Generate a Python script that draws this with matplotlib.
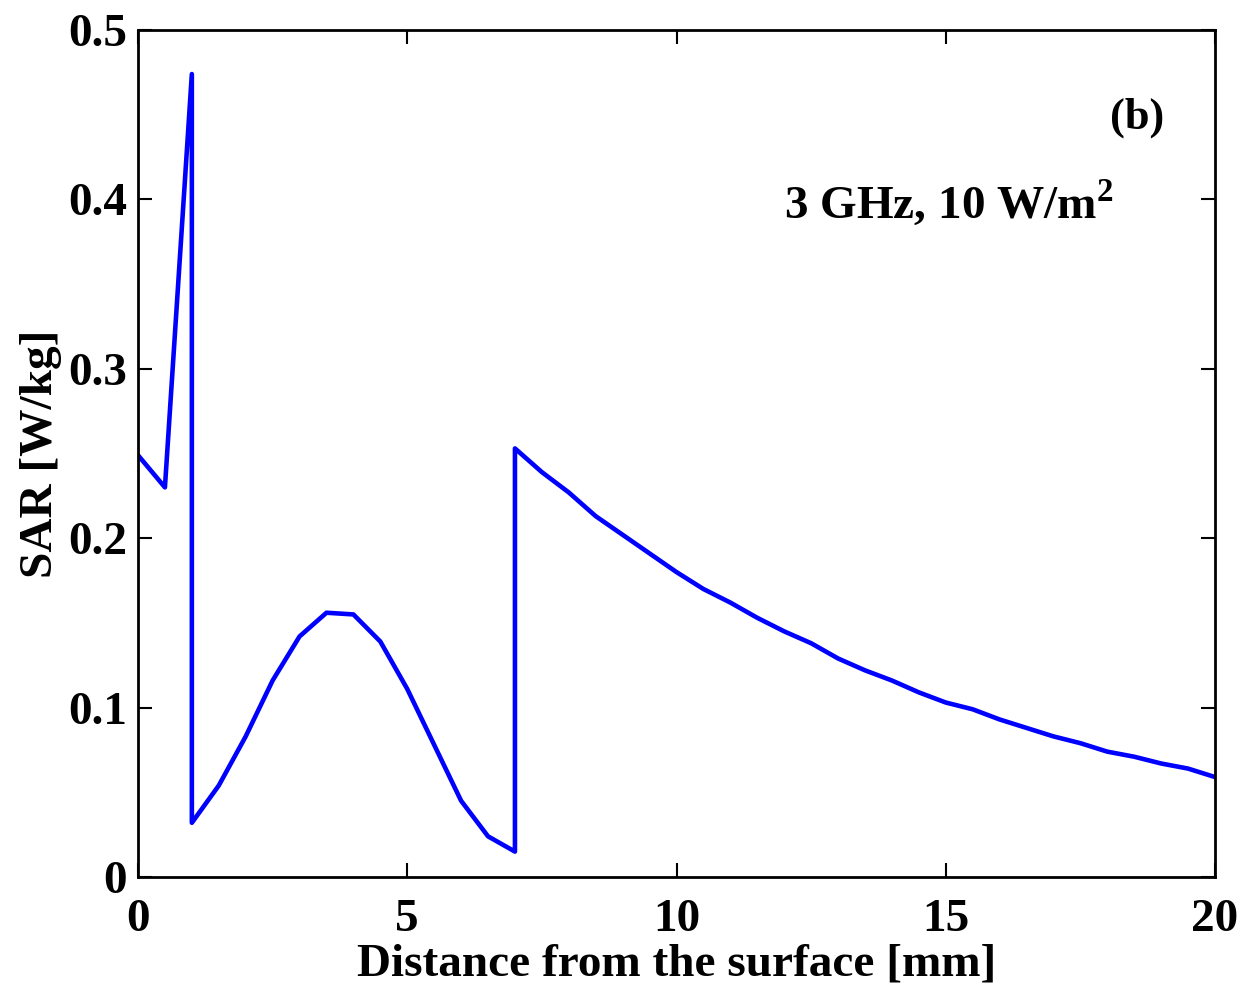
import numpy as np
import matplotlib
matplotlib.use("Agg")
import matplotlib.pyplot as plt

# SAR profile vs depth
depth = [0, 0.5, 1, 1, 1.5, 2, 2.5, 3, 3.5, 4, 4.5, 5, 5.5, 6, 6.5, 7, 7,
         7.5, 8, 8.5, 9, 9.5, 10, 10.5, 11, 11.5, 12, 12.5, 13, 13.5, 14,
         14.5, 15, 15.5, 16, 16.5, 17, 17.5, 18, 18.5, 19, 19.5, 20]
sar = [0.249, 0.230, 0.474, 0.032, 0.054, 0.083, 0.116, 0.142, 0.156, 0.155,
       0.139, 0.111, 0.078, 0.045, 0.024, 0.015, 0.253,
       0.239, 0.227, 0.213, 0.202, 0.191, 0.180, 0.170, 0.162, 0.153, 0.145,
       0.138, 0.129, 0.122, 0.116, 0.109, 0.103, 0.099, 0.093, 0.088, 0.083,
       0.079, 0.074, 0.071, 0.067, 0.064, 0.059]

xticks = [0, 5, 10, 15, 20]
yticks = [0, 0.1, 0.2, 0.3, 0.4, 0.5]

plt.rcParams['font.family'] = ['Liberation Serif', 'DejaVu Serif']
plt.rcParams['font.weight'] = 'bold'
plt.rcParams['mathtext.fontset'] = 'custom'
plt.rcParams['mathtext.rm'] = 'Liberation Serif:bold'
plt.rcParams['mathtext.bf'] = 'Liberation Serif:bold'

fig = plt.figure(figsize=(12.43, 9.89), dpi=100)
ax = fig.add_axes([138/1243, 1 - 877/989, (1215-138)/1243, (877-30)/989])

ax.plot(depth, sar, color=(0, 0, 1), lw=3.3)

ax.set_xlim(0, 20)
ax.set_ylim(0, 0.5)
ax.set_xticks(xticks)
ax.set_yticks(yticks)
ax.set_xticklabels([str(t) for t in xticks])
ax.set_yticklabels(['0', '0.1', '0.2', '0.3', '0.4', '0.5'])
ax.tick_params(direction='in', length=10, width=1.5, top=True, right=True,
               labelsize=34, pad=8)
ax.tick_params(axis='x', pad=16)
for s in ax.spines.values():
    s.set_linewidth(2)

ax.set_xlabel('Distance from the surface [mm]', fontsize=34, fontweight='bold', labelpad=2)
ax.set_ylabel('SAR [W/kg]', fontsize=34, fontweight='bold', labelpad=4)

ax.text(19.05, 0.448, '(b)', fontsize=32, fontweight='bold', ha='right', va='center')
ax.text(18.12, 0.398, r'3 GHz, 10 W/m$^{\mathbf{2}}$', fontsize=34, fontweight='bold',
        ha='right', va='center')

fig.savefig('out.png', dpi=100)
